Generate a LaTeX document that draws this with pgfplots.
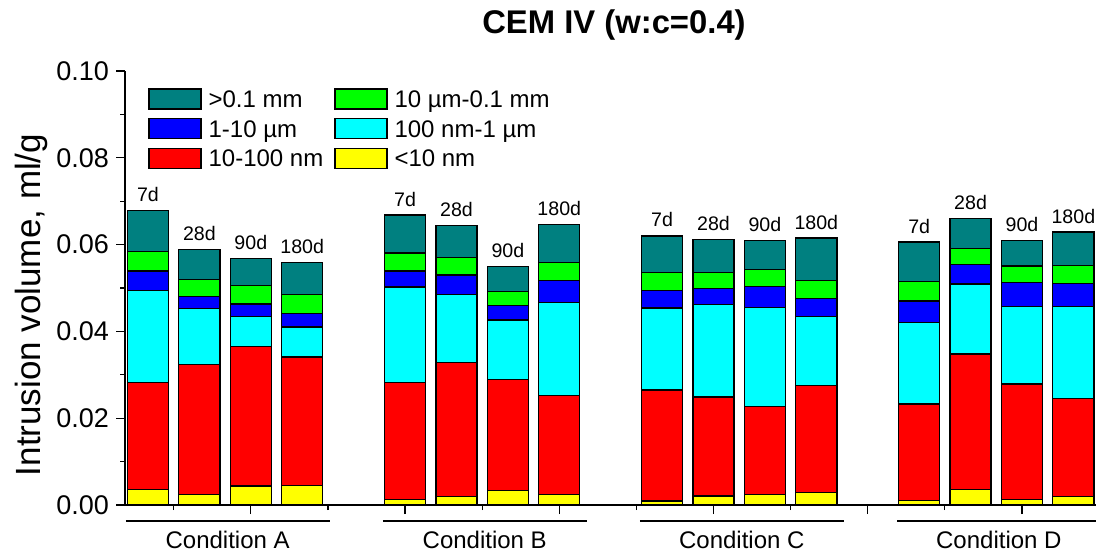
\documentclass[border=0pt]{standalone}
\usepackage{fontspec}
\setmainfont{Liberation Sans}
\usepackage{pgfplots}
\usepackage{pgfplotstable}
\pgfplotsset{compat=1.18}
\definecolor{cteal}{RGB}{0,128,128}
\definecolor{cgreen}{RGB}{0,255,0}
\definecolor{cblue}{RGB}{0,0,255}
\definecolor{ccyan}{RGB}{0,255,255}
\definecolor{cred}{RGB}{255,0,0}
\definecolor{cyellow}{RGB}{255,255,0}
% segment heights (ml/g), bottom to top, and total height of each bar
\pgfplotstableread{
x  Y      R      C      B      G      T      Top    lab
1  0.0035 0.0248 0.0212 0.0044 0.0045 0.0094 0.0678 7d
2  0.0025 0.0299 0.0128 0.0028 0.0040 0.0068 0.0588 28d
3  0.0044 0.0322 0.0069 0.0028 0.0042 0.0063 0.0568 90d
4  0.0045 0.0296 0.0069 0.0031 0.0044 0.0073 0.0558 180d
6  0.0013 0.0270 0.0219 0.0037 0.0042 0.0087 0.0668 7d
7  0.0020 0.0308 0.0157 0.0045 0.0040 0.0074 0.0644 28d
8  0.0034 0.0255 0.0137 0.0033 0.0033 0.0057 0.0549 90d
9  0.0025 0.0228 0.0214 0.0050 0.0041 0.0089 0.0647 180d
11 0.0009 0.0256 0.0189 0.0040 0.0041 0.0085 0.0620 7d
12 0.0021 0.0228 0.0213 0.0037 0.0036 0.0077 0.0612 28d
13 0.0024 0.0203 0.0228 0.0049 0.0039 0.0067 0.0610 90d
14 0.0029 0.0247 0.0159 0.0041 0.0042 0.0097 0.0615 180d
16 0.0011 0.0222 0.0187 0.0050 0.0045 0.0091 0.0606 7d
17 0.0035 0.0313 0.0161 0.0045 0.0037 0.0069 0.0660 28d
18 0.0013 0.0266 0.0179 0.0055 0.0038 0.0058 0.0609 90d
19 0.0020 0.0226 0.0211 0.0054 0.0041 0.0077 0.0629 180d
}\data
\begin{document}
\begin{tikzpicture}
\useasboundingbox (0,0) rectangle (548pt,277pt);
\begin{axis}[
  at={(62.5pt,24.5pt)}, anchor=south west,
  scale only axis, width=485.5pt, height=217pt,
  xmin=0.553, xmax=19.44, ymin=0, ymax=0.1,
  clip=false,
  ybar stacked, bar width=0.8,
  axis x line*=bottom, axis y line*=left,
  axis line style={-, line width=0.6pt},
  xtick={3,6,9,12,15,18},
  minor xtick={1.5,4.5,7.5,10.5,13.5,16.5},
  xticklabels={},
  ytick={0,0.02,0.04,0.06,0.08,0.1},
  minor ytick={0.01,0.03,0.05,0.07,0.09},
  scaled y ticks=false,
  yticklabel style={/pgf/number format/fixed, /pgf/number format/fixed zerofill, /pgf/number format/precision=2, /pgf/number format/assume math mode=true, font=\fontsize{13.5}{16}\selectfont},
  tick align=outside,
  major tick length=4.5pt, minor tick length=2.5pt,
  tick style={black, line width=0.6pt},
  ylabel={Intrusion volume, ml/g},
  ylabel style={at={(rel axis cs:-0.0968,0.461)}, anchor=center, font=\fontsize{17.5}{20}\selectfont},
  title={CEM IV (w:c=0.4)},
  title style={at={(rel axis cs:0.5036,1.083)}, anchor=base, yshift=-5.5pt, font=\bfseries\fontsize{16.4}{19}\selectfont},
  legend columns=2,
  legend style={at={(rel axis cs:0,1)}, anchor=north west, xshift=11.5pt, yshift=-8.5pt,
    draw=none, fill=none, inner sep=0pt,
    font=\fontsize{12}{14}\selectfont,
    nodes={inner sep=0.5pt, text height=8.6pt, text depth=2.6pt},
    row sep=2.1pt,
    /tikz/every odd column/.append style={column sep=3pt},
    /tikz/every even column/.append style={column sep=5pt}},
  legend cell align=left,
  legend image code/.code={\draw[#1, draw=black, line width=0.6pt] (0pt,-3.7pt) rectangle (26pt,6.3pt);},
]
\addlegendimage{fill=cteal}\addlegendentry{>0.1 mm}
\addlegendimage{fill=cgreen}\addlegendentry{10 µm-0.1 mm}
\addlegendimage{fill=cblue}\addlegendentry{1-10 µm}
\addlegendimage{fill=ccyan}\addlegendentry{100 nm-1 µm}
\addlegendimage{fill=cred}\addlegendentry{10-100 nm}
\addlegendimage{fill=cyellow}\addlegendentry{<10 nm}

\addplot[fill=cyellow, draw=black, line width=0.65pt, forget plot] table[x=x, y=Y]{\data};
\addplot[fill=cred, draw=black, line width=0.65pt, forget plot] table[x=x, y=R]{\data};
\addplot[fill=ccyan, draw=black, line width=0.65pt, forget plot] table[x=x, y=C]{\data};
\addplot[fill=cblue, draw=black, line width=0.65pt, forget plot] table[x=x, y=B]{\data};
\addplot[fill=cgreen, draw=black, line width=0.65pt, forget plot] table[x=x, y=G]{\data};
\addplot[fill=cteal, draw=black, line width=0.65pt, forget plot] table[x=x, y=T]{\data};

\draw[line width=1pt] ([yshift=-8pt]axis cs:0.57,0) -- ([yshift=-8pt]axis cs:4.54,0);
\draw[line width=1pt] ([yshift=-8pt]axis cs:5.57,0) -- ([yshift=-8pt]axis cs:9.54,0);
\draw[line width=1pt] ([yshift=-8pt]axis cs:10.57,0) -- ([yshift=-8pt]axis cs:14.54,0);
\draw[line width=1pt] ([yshift=-8pt]axis cs:15.57,0) -- ([yshift=-8pt]axis cs:19.54,0);
\node[anchor=base, font=\fontsize{12}{14}\selectfont] at ([yshift=-21.5pt]axis cs:2.55,0) {Condition A};
\node[anchor=base, font=\fontsize{12}{14}\selectfont] at ([yshift=-21.5pt]axis cs:7.55,0) {Condition B};
\node[anchor=base, font=\fontsize{12}{14}\selectfont] at ([yshift=-21.5pt]axis cs:12.55,0) {Condition C};
\node[anchor=base, font=\fontsize{12}{14}\selectfont] at ([yshift=-21.5pt]axis cs:17.55,0) {Condition D};
\end{axis}
\begin{axis}[
  at={(62.5pt,24.5pt)}, anchor=south west,
  scale only axis, width=485.5pt, height=217pt,
  xmin=0.553, xmax=19.44, ymin=0, ymax=0.1,
  hide axis, clip=false,
  nodes near coords, point meta=explicit symbolic,
  every node near coord/.append style={font=\fontsize{9.8}{12}\selectfont, inner sep=0pt, anchor=center, yshift=8pt, black},
]
\addplot[only marks, mark=none, draw=none] table[x=x, y=Top, meta=lab]{\data};
\end{axis}
\end{tikzpicture}
\end{document}
